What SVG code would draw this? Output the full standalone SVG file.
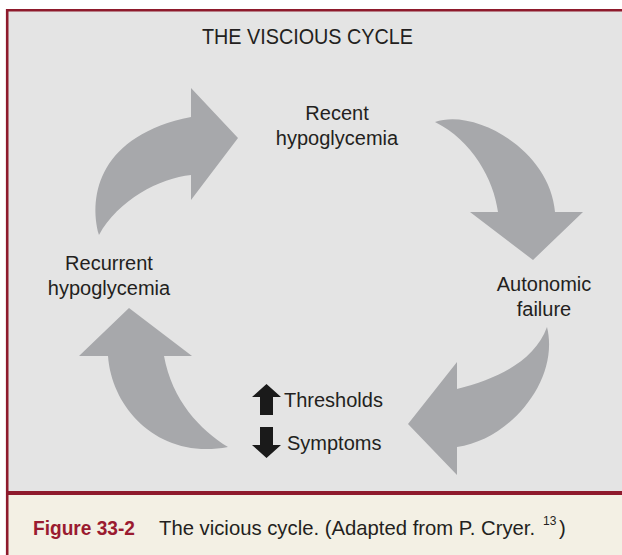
<svg xmlns="http://www.w3.org/2000/svg" width="622" height="555" viewBox="0 0 622 555">
  <style>
    .label { font-family: "Liberation Sans", Arial, sans-serif; font-size: 20px; fill: #231f20; text-anchor: middle; }
    .side { font-family: "Liberation Sans", Arial, sans-serif; font-size: 20px; fill: #231f20; }
    .title { font-family: "Liberation Sans", Arial, sans-serif; font-size: 22px; fill: #231f20; }
    .cycle { fill: #a7a8ab; }
    .mark { fill: #1a1a1a; }
    .frame { stroke: #8e1a2c; fill: none; }
    .cap { font-family: "Liberation Sans", Arial, sans-serif; font-size: 20.3px; fill: #231f20; }
    .sup { font-family: "Liberation Sans", Arial, sans-serif; font-size: 12px; fill: #231f20; }
    .capnum { font-family: "Liberation Sans", Arial, sans-serif; font-size: 21px; font-weight: bold; fill: #9a1b30; }
  </style>

  <!-- panel backgrounds -->
  <rect x="0" y="0" width="622" height="555" fill="#ffffff"/>
  <rect x="7" y="10" width="615" height="481" fill="#e4e4e4"/>
  <rect x="7" y="495" width="615" height="60" fill="#f3f0e4"/>

  <!-- frame rules -->
  <line class="frame" x1="6" y1="10.3" x2="622" y2="10.3" stroke-width="2.6"/>
  <line class="frame" x1="7.2" y1="9" x2="7.2" y2="555" stroke-width="2.6"/>
  <rect x="6" y="491" width="616" height="4" fill="#8e1a2c"/>

  <!-- title -->
  <text x="202" y="44" class="title" textLength="211" lengthAdjust="spacingAndGlyphs">THE VISCIOUS CYCLE</text>

  <!-- curved cycle arrows -->
  <g id="connectors">
    <!-- recurrent -> recent -->
    <path class="cycle" d="M99,235 C88,195 100,135 191,117 L191,88 L238,138 L191,200 L191,175 C160,178 118,200 99,235 Z"/>
    <!-- recent -> autonomic failure -->
    <path class="cycle" d="M435,122 C475,108 550,150 555,212 L583,212 L533,260 L470,212 L498,212 C494,180 472,140 435,122 Z"/>
    <!-- autonomic failure -> thresholds/symptoms -->
    <path class="cycle" d="M547,327 C560,380 510,440 457,447 L457,475 L408,424 L457,362 L457,389 C500,378 535,360 547,327 Z"/>
    <!-- thresholds/symptoms -> recurrent -->
    <path class="cycle" d="M228,447 C160,460 112,410 108,356 L79,356 L129,308 L192,356 L164,356 C172,400 200,430 228,447 Z"/>
  </g>

  <g id="recent">
    <text class="label" x="337" y="120">Recent</text>
    <text class="label" x="337" y="145">hypoglycemia</text>
  </g>

  <g id="autonomic">
    <text class="label" x="544" y="291">Autonomic</text>
    <text class="label" x="544" y="316">failure</text>
  </g>

  <g id="recurrent">
    <text class="label" x="109" y="270">Recurrent</text>
    <text class="label" x="109" y="295">hypoglycemia</text>
  </g>

  <g id="thresholds-symptoms">
    <path class="mark" d="M266.5,384 L281,397 L273,397 L273,415 L260,415 L260,397 L252,397 Z"/>
    <text class="side" x="284" y="407">Thresholds</text>
    <path class="mark" d="M260,427 L273,427 L273,445 L281,445 L266.5,458 L252,445 L260,445 Z"/>
    <text class="side" x="287" y="450">Symptoms</text>
  </g>

  <!-- caption -->
  <g id="caption">
    <text class="capnum" x="33" y="535" textLength="102" lengthAdjust="spacingAndGlyphs">Figure 33-2</text>
    <text class="cap" x="159" y="535">The vicious cycle. (Adapted from P. Cryer.</text>
    <text class="sup" x="543" y="525">13</text>
    <text class="cap" x="559" y="535">)</text>
  </g>
</svg>
